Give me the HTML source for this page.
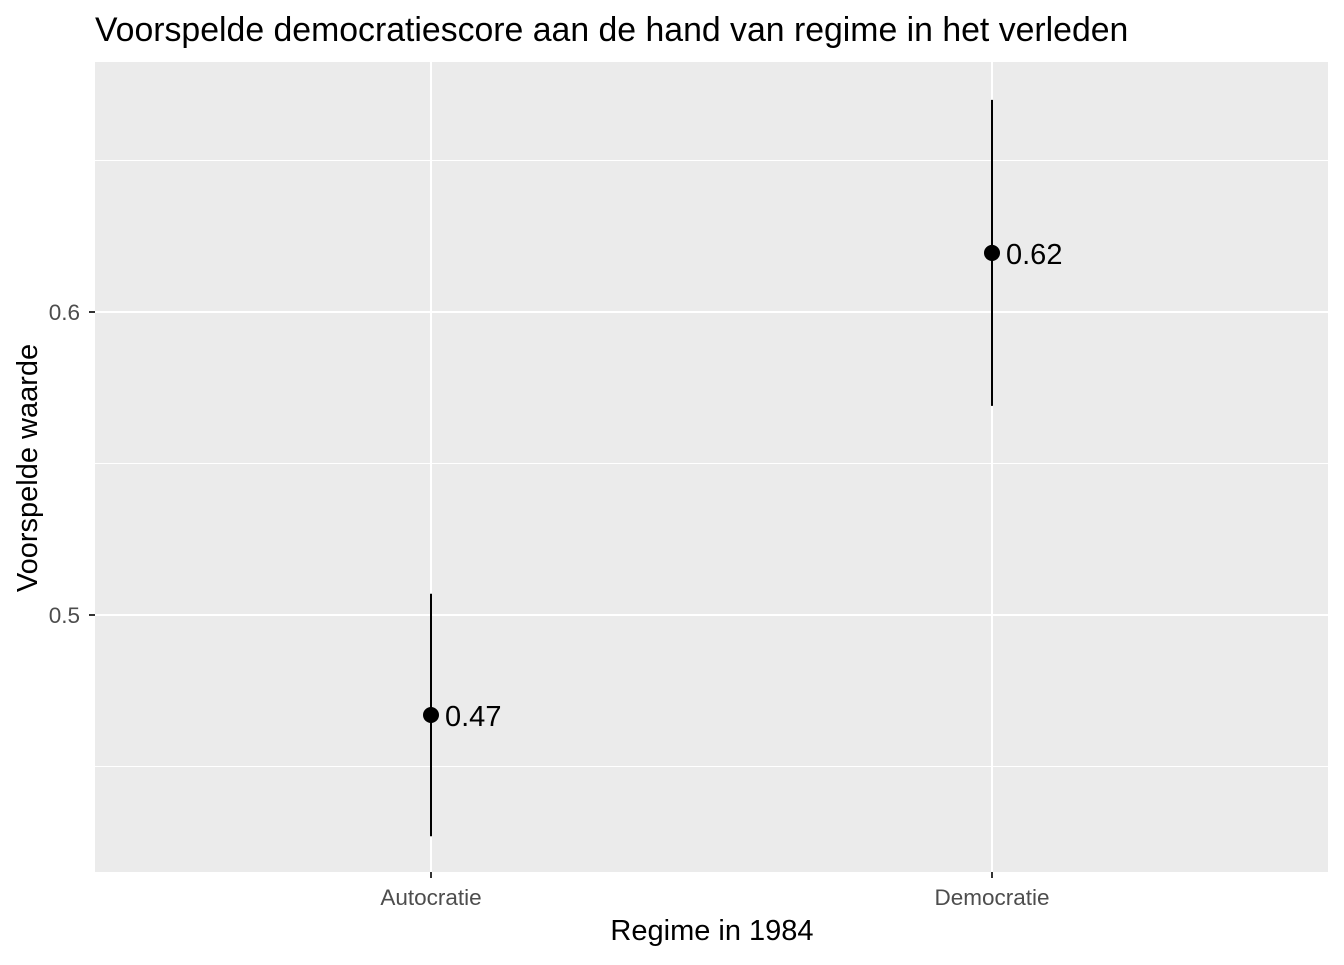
<!DOCTYPE html>
<html><head><meta charset="utf-8"><style>
body{margin:0;background:#fff;}
text{font-family:"Liberation Sans",Arial,sans-serif;}
</style></head><body>
<svg id="chart" width="1344" height="960" xmlns="http://www.w3.org/2000/svg">
<text x="95" y="41" font-size="33.8" fill="#000">Voorspelde democratiescore aan de hand van regime in het verleden</text>
<rect x="95" y="62" width="1233" height="810" fill="#ebebeb"/>
<g id="grid"></g>
<g id="marks"></g>
<g id="axes"></g>
<text x="712" y="940" font-size="29" text-anchor="middle" fill="#000">Regime in 1984</text>
<text transform="translate(37,468) rotate(-90)" font-size="29" text-anchor="middle" fill="#000">Voorspelde waarde</text>
</svg>
<script>
const categories=["Autocratie","Democratie"];
const estimates=[0.467,0.6195];
const lowers=[0.427,0.569];
const uppers=[0.507,0.670];
const labels=["0.47","0.62"];
const yTicks=[0.5,0.6];
const yTickLabels=["0.5","0.6"];
const yMinor=[0.45,0.55,0.65];
const NS="http://www.w3.org/2000/svg";
function y(v){return 615-(v-0.5)*3030;}
function x(i){return 431+i*561;}
function mk(t,a,p){const e=document.createElementNS(NS,t);for(const k in a)e.setAttribute(k,a[k]);p.appendChild(e);return e;}
const g=document.getElementById('grid'),m=document.getElementById('marks'),ax=document.getElementById('axes');
yMinor.forEach(v=>{const l=mk('line',{x1:95,x2:1328,y1:y(v),y2:y(v),stroke:'#fff','stroke-width':1},g);

});
yTicks.forEach((v,i)=>{const l=mk('line',{x1:95,x2:1328,y1:y(v),y2:y(v),stroke:'#fff','stroke-width':2},g);


const t=mk('line',{x1:89,x2:95,y1:y(v),y2:y(v),stroke:'#333','stroke-width':2},ax);


const tx=mk('text',{x:80,y:y(v)+8,'font-size':22.5,'text-anchor':'end',fill:'#4d4d4d'},ax);tx.textContent=yTickLabels[i];

});
categories.forEach((c,i)=>{const l=mk('line',{x1:x(i),x2:x(i),y1:62,y2:872,stroke:'#fff','stroke-width':2},g);


const t=mk('line',{x1:x(i),x2:x(i),y1:872,y2:878,stroke:'#333','stroke-width':2},ax);


const tx=mk('text',{x:x(i),y:905,'font-size':22.5,'text-anchor':'middle',fill:'#4d4d4d'},ax);tx.textContent=c;


const e=mk('line',{x1:x(i),x2:x(i),y1:y(uppers[i]),y2:y(lowers[i]),stroke:'#000','stroke-width':2},m);


const p=mk('circle',{cx:x(i),cy:y(estimates[i]),r:8,fill:'#000'},m);


const lb=mk('text',{x:x(i)+14,y:y(estimates[i])+11,'font-size':29,fill:'#000'},m);lb.textContent=labels[i];

});
</script>
</body></html>
